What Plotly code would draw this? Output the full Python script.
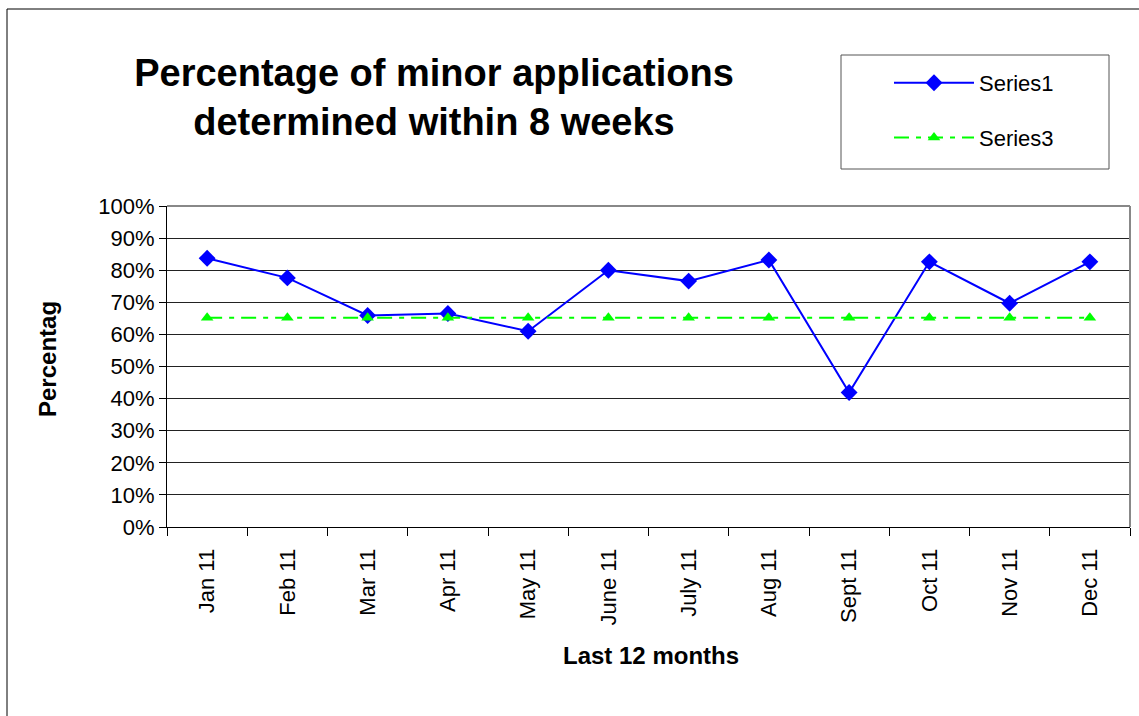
import plotly.graph_objects as go

months = ["Jan 11", "Feb 11", "Mar 11", "Apr 11", "May 11", "June 11",
          "July 11", "Aug 11", "Sept 11", "Oct 11", "Nov 11", "Dec 11"]
series1 = [0.837, 0.776, 0.659, 0.665, 0.610, 0.800, 0.766, 0.832, 0.419, 0.826, 0.697, 0.826]
series3 = [0.652] * 12
y_ticks = [0.0, 0.1, 0.2, 0.3, 0.4, 0.5, 0.6, 0.7, 0.8, 0.9, 1.0]
y_tick_text = ["0%", "10%", "20%", "30%", "40%", "50%", "60%", "70%", "80%", "90%", "100%"]

FONT = "Arial, Liberation Sans, sans-serif"

fig = go.Figure()
fig.add_trace(go.Scatter(
    x=months, y=series1, name="Series1", mode="lines+markers",
    line=dict(color="#0000FF", width=2),
    marker=dict(symbol="diamond", size=13, color="#0000FF"),
    legendgroup="g1",
))
fig.add_trace(go.Scatter(
    x=months, y=series3, name="Series3", mode="lines+markers",
    line=dict(color="#00FF00", width=2, dash="15px,7px,5px,7px"),
    marker=dict(symbol="triangle-up", size=11, color="#00FF00"),
    legendgroup="g3",
))

fig.update_layout(
    width=1139, height=716,
    margin=dict(l=167, r=9, t=206, b=189, autoexpand=False),
    paper_bgcolor="white", plot_bgcolor="white",
    font=dict(family=FONT, color="black", size=22),
    title=dict(
        text="<b>Percentage of minor applications<br>determined within 8 weeks</b>",
        x=434 / 1139, xref="container", xanchor="center",
        y=1 - 86 / 716, yref="container", yanchor="middle",
        font=dict(size=38, family=FONT, color="black"),
    ),
    showlegend=True,
    legend=dict(
        x=(889 - 167) / 963, xanchor="left",
        y=(527 - 62) / 321, yanchor="top",
        bgcolor="rgba(0,0,0,0)", borderwidth=0,
        font=dict(size=22, family=FONT, color="black"),
        itemwidth=80, tracegroupgap=23, traceorder="grouped",
    ),
    xaxis=dict(
        type="category", tickson="boundaries",
        ticks="outside", ticklen=8, tickcolor="black",
        tickangle=-90, tickfont=dict(size=22, family=FONT),
        ticklabelstandoff=12,
        showline=True, linecolor="black", linewidth=1, mirror=False,
        showgrid=False, range=[-0.5, 11.5],
    ),
    yaxis=dict(
        range=[0, 1], tickvals=y_ticks, ticktext=y_tick_text,
        ticks="outside", ticklen=7, tickcolor="black",
        tickfont=dict(size=22, family=FONT),
        showline=True, linecolor="black", linewidth=1,
        showgrid=True, gridcolor="#222222", gridwidth=1,
        zeroline=False,
    ),
    shapes=[
        # plot area top/right border (gray)
        dict(type="line", xref="paper", yref="paper", x0=0, x1=1, y0=1, y1=1,
             line=dict(color="#888888", width=2)),
        dict(type="line", xref="paper", yref="paper", x0=1, x1=1, y0=0, y1=1,
             line=dict(color="#888888", width=2)),
        # legend frame
        dict(type="rect", xref="paper", yref="paper",
             x0=(841 - 167) / 963, x1=(1109 - 167) / 963,
             y0=(527 - 169) / 321, y1=(527 - 55) / 321,
             line=dict(color="#555555", width=1), layer="below"),
        # outer chart frame
        dict(type="rect", xref="paper", yref="paper",
             x0=(7 - 167) / 963, x1=1.5,
             y0=-1.0, y1=(527 - 9) / 321,
             line=dict(color="black", width=1), layer="below"),
    ],
    annotations=[
        dict(text="<b>Last 12 months</b>", xref="paper", yref="paper",
             x=(651 - 167) / 963, y=(527 - 655) / 321,
             showarrow=False, xanchor="center", yanchor="middle",
             font=dict(size=24, family=FONT, color="black")),
        dict(text="<b>Percentag</b>", xref="paper", yref="paper",
             x=(47 - 167) / 963, y=(527 - 359) / 321, textangle=-90,
             showarrow=False, xanchor="center", yanchor="middle",
             font=dict(size=24, family=FONT, color="black")),
    ],
)

fig.write_html(
    "out.html",
    config={"displayModeBar": False},
    post_script="document.body.style.margin='0';document.body.style.padding='0';",
)
